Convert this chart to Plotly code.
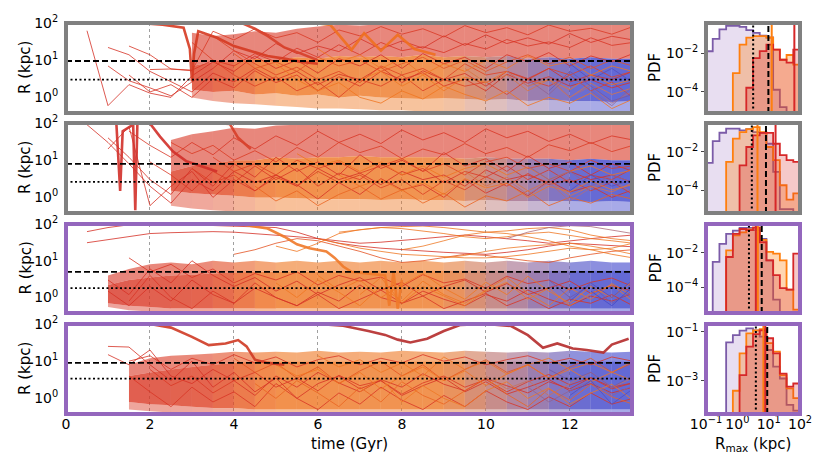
import plotly.graph_objects as go

W, H = 830, 475

# ---------------- data ----------------
T_GRID = [0.0, 0.5, 1.0, 1.5, 2.0, 2.5, 3.0, 3.5, 4.0, 4.5, 5.0, 5.5, 6.0, 6.5,
          7.0, 7.5, 8.0, 8.5, 9.0, 9.5, 10.0, 10.5, 11.0, 11.5, 12.0, 12.5, 13.0, 13.5]
T_MAX = 13.48

R_DASHED = [9.5, 8.0, 5.0, 9.0]
R_DOTTED = [3.0, 2.6, 1.8, 3.4]
HIST_DASHED = [9.8, 8.2, 6.0, 9.0]
HIST_DOTTED = [3.2, 2.9, 2.35, 3.9]
MED_ORANGE = [12.5, 4.4, 4.5, 6.8]
MED_RED = [66.0, 16.6, 3.9, 7.8]

# dense bands (value lists start at index *_BAND_START of T_GRID)
P1_BAND_START = 6
P1_HI = [55, 45, 50, 60, 55, 70, 80, 90, 85, 92, 88, 92, 90, 93, 88, 92, 90, 94, 88, 92, 90, 92]
P1_MID = [7, 9, 9, 11, 10, 12, 11, 13, 12, 13, 12, 14, 12, 13, 12, 13, 11, 12, 11, 12, 11, 11]
P1_CLO = [1.6, 1.4, 1.5, 1.2, 1.3, 1.1, 1.2, 1.0, 1.1, 1.0, 0.95, 0.9, 0.95, 0.9, 0.85, 0.9, 0.8, 0.85, 0.8, 0.8, 0.75, 0.8]
P1_LO = [1.0, 0.8, 0.7, 0.65, 0.6, 0.55, 0.5, 0.5, 0.48, 0.45, 0.45, 0.42, 0.42, 0.42, 0.42, 0.42, 0.42, 0.42, 0.42, 0.42, 0.42, 0.42]

P2_BAND_START = 5
P2_HI = [35, 50, 60, 75, 70, 85, 90, 88, 92, 90, 93, 90, 92, 90, 94, 90, 92, 90, 93, 90, 92, 90, 92]
P2_MID = [5, 7, 8, 10, 10, 12, 11, 12, 12, 13, 12, 12, 12, 12, 11, 12, 11, 11, 11, 10, 11, 10, 10]
P2_CLO = [1.5, 1.3, 1.2, 1.1, 1.0, 1.0, 0.95, 0.9, 0.9, 0.9, 0.85, 0.9, 0.85, 0.85, 0.8, 0.85, 0.8, 0.8, 0.8, 0.8, 0.75, 0.8, 0.75]
P2_LO = [0.6, 0.5, 0.45, 0.42, 0.42, 0.42, 0.42, 0.42, 0.42, 0.42, 0.42, 0.42, 0.42, 0.42, 0.42, 0.42, 0.42, 0.42, 0.42, 0.42, 0.42, 0.42, 0.42]

P3_BAND_START = 2
P3_HI = [4, 6, 8, 9, 8, 10, 9, 10, 9, 10, 9, 10, 9, 10, 9, 10, 9, 10, 9, 10, 9, 10, 9, 10, 9, 9]
P3_MID = [2.2, 3, 3.5, 4, 4.2, 4.5, 4.8, 5, 5, 5.2, 5, 5.2, 5.5, 5.5, 5.5, 5.5, 5.5, 5.5, 5.5, 5.5, 5.5, 5.5, 5.5, 5.5, 5.5, 5.5]
P3_CLO = [0.7, 0.6, 0.55, 0.5, 0.5, 0.5, 0.5, 0.5, 0.5, 0.5, 0.5, 0.5, 0.5, 0.5, 0.5, 0.5, 0.5, 0.5, 0.5, 0.5, 0.5, 0.5, 0.5, 0.5, 0.5, 0.5]
P3_LO = [0.55, 0.45, 0.42, 0.42, 0.42, 0.42, 0.42, 0.42, 0.42, 0.42, 0.42, 0.42, 0.42, 0.42, 0.42, 0.42, 0.42, 0.42, 0.42, 0.42, 0.42, 0.42, 0.42, 0.42, 0.42, 0.42]

P4_BAND_START = 3
P4_HI = [8, 12, 14, 15, 16, 18, 17, 18, 17, 19, 17, 18, 17, 19, 18, 17, 19, 18, 17, 18, 17, 19, 18, 17, 18]
P4_MID = [4, 5, 6, 7, 8, 9, 10, 10, 10, 10, 10, 10, 10, 10, 10, 10, 10, 10, 10, 10, 10, 10, 10, 10, 10]
P4_CLO = [0.8, 0.7, 0.65, 0.6, 0.55, 0.55, 0.5, 0.5, 0.5, 0.5, 0.5, 0.5, 0.5, 0.5, 0.5, 0.5, 0.5, 0.5, 0.5, 0.5, 0.5, 0.5, 0.5, 0.5, 0.5]
P4_LO = [0.5, 0.45, 0.42, 0.42, 0.42, 0.42, 0.42, 0.42, 0.42, 0.42, 0.42, 0.42, 0.42, 0.42, 0.42, 0.42, 0.42, 0.42, 0.42, 0.42, 0.42, 0.42, 0.42, 0.42, 0.42]

# individual trajectories: start index in T_GRID and R values (kpc)
P1_LINE_START = [1, 2, 2, 3, 3, 4, 6, 7, 8, 10, 12, 14, 19, 21, 22, 23, 24]
P1_LINES = [
    [62, 0.6, 2.2, 1.3, 1.0, 3.8, 9, 5, 13, 6, 10, 4.5, 11, 7, 14, 6, 15, 8, 12, 6, 14, 9, 16, 7, 13, 9, 15],
    [22, 14, 5, 2.6, 1.4, 4.5, 2.6, 6, 3, 5, 2.2, 4.2, 3, 6.5, 2.5, 5.2, 3, 4.4, 2, 5, 3.2, 6, 2.6, 4, 3, 5],
    [7, 2.8, 1.8, 1.1, 2.6, 6, 18, 11, 28, 15, 24, 17, 38, 20, 33, 21, 45, 25, 48, 28, 40, 27, 52, 30, 44, 35],
    [24, 14, 5.8, 5.4, 10, 7, 15, 9, 21, 12, 26, 14, 30, 18, 23, 16, 28, 20, 36, 24, 31, 22, 40, 25, 30],
    [4, 1.4, 2.2, 1.0, 3.2, 1.8, 5.2, 2.5, 4, 1.5, 3.6, 2, 5, 3, 4.6, 2, 3.1, 1.5, 4.2, 2.4, 3.6, 2, 3, 1.8, 2.6],
    [5.6, 5.8, 5.2, 60, 35, 70, 40, 55, 30, 65, 45, 80, 50, 70, 42, 85, 55, 75, 48, 88, 60, 72, 50, 80],
    [30, 10, 4, 2, 3.6, 1.5, 2.6, 1.0, 3, 2, 4, 1.5, 3, 2, 2.6, 1.2, 3, 2, 4, 1.5, 2.6, 1.0],
    [45, 18, 8, 4, 6.5, 3, 5, 2.5, 7, 4, 6, 3, 8, 4, 5, 3, 6, 4, 7, 3.5, 5],
    [15, 6, 9, 5, 12, 7, 10, 5, 8, 12, 6, 10, 5, 9, 14, 8, 12, 6, 10, 7],
    [8, 3, 1.5, 2.5, 1, 0.7, 1.5, 0.9, 2, 1.2, 0.8, 1.5, 0.6, 1, 0.7, 1.3, 0.5, 0.9],
    [20, 9, 14, 6, 11, 4, 8, 5, 10, 6, 13, 7, 9, 4, 7, 5],
    [3, 5, 2, 4, 1.5, 3.5, 2.5, 5, 2, 3, 1.6, 4, 2.2, 3],
    [6, 2.5, 4, 1.5, 3, 1, 2.4, 1.2, 1.8],
    [5, 2, 3.5, 1, 2, 0.7, 1.5],
    [3, 1.2, 4, 1.5, 0.6, 2],
    [1.5, 5, 2, 0.8, 1.2],
    [8, 3, 6, 2.5],
]
P2_LINE_START = [1, 2, 2, 3, 4, 5, 6, 7, 9, 11, 13, 19, 21, 22, 24]
P2_LINES = [
    [90, 30, 8, 2, 0.7, 3, 1.5, 5, 2.5, 4, 2, 6, 3, 4.5, 2.2, 5, 3, 4, 2, 5.5, 3, 4, 2.5, 5, 3, 4, 2.5],
    [40, 12, 3, 1.2, 6, 2, 8, 3.5, 12, 5, 9, 4, 14, 6, 10, 5, 16, 7, 11, 5, 13, 6, 9, 4, 8, 5],
    [20, 80, 0.6, 2, 5, 1, 3, 1.5, 4, 2.2, 0.9, 2.5, 1.2, 3.2, 1.6, 2.2, 1, 3, 1.3, 2.4, 1.1, 2.8, 1.4, 2, 1, 1.6],
    [60, 25, 12, 30, 14, 40, 20, 45, 25, 60, 30, 50, 28, 65, 35, 55, 30, 70, 40, 60, 32, 50, 28, 45, 35],
    [9, 4, 1.5, 5, 2.5, 7, 3, 6, 2, 4.5, 3, 8, 4, 6, 2.5, 5, 3.5, 7, 3, 5.5, 2.5, 4, 3, 6],
    [30, 15, 25, 10, 18, 9, 22, 12, 30, 16, 24, 11, 20, 14, 28, 15, 22, 12, 26, 18, 30, 17, 25],
    [6, 2.5, 4, 1.5, 3.5, 2, 5, 2.5, 4, 1.8, 3, 1.2, 2.8, 1.6, 3.6, 2, 4.4, 2.2, 3, 1.5, 2.6, 1.2],
    [12, 5, 8, 4, 10, 6, 9, 4.5, 7, 11, 5, 8, 4, 9, 12, 6, 8, 5, 10, 6, 7],
    [2, 0.8, 1.5, 0.6, 1.2, 2, 0.9, 1.6, 0.7, 1.3, 0.55, 1.1, 0.8, 1.5, 0.6, 1, 0.7, 1.2, 0.9],
    [15, 7, 10, 5, 9, 4, 7, 3.5, 6, 8, 4, 6.5, 3, 5, 7, 4, 5.5],
    [4, 2, 3, 1.5, 2.5, 1.2, 3.2, 1.8, 2.4, 1, 2, 1.4, 2.8, 1.6, 2.2],
    [5, 2, 3.5, 1.5, 2.8, 1.1, 2, 1.4, 2.5],
    [3, 1.2, 2.5, 0.8, 1.8, 3, 1.3],
    [7, 3, 5, 2, 4, 2.5],
    [1.5, 4, 2, 3],
]
P3_LINE_START = [2, 2, 3, 3, 1, 1, 8, 10, 12, 13, 16, 18, 21, 10, 12, 14, 23, 24, 25]
P3_LINES = [
    [1.5, 0.6, 2, 0.8, 3, 1.2, 0.7, 1.8, 1, 0.6, 1.4, 0.8, 2.2, 1, 0.7, 1.5, 0.9, 0.6, 1.2, 0.8, 1.6, 0.9, 0.6, 1.1, 0.8, 1.3],
    [3, 1.2, 6, 2.5, 10, 4, 2, 3.5, 1.5, 2.8, 1.2, 2.2, 3.5, 1.6, 2.6, 1.1, 2, 3, 1.4, 2.4, 1.2, 1.8, 2.8, 1.3, 2.1, 1.5],
    [0.8, 4, 1, 0.5, 1.5, 0.7, 2.5, 1, 0.6, 1.2, 0.5, 0.9, 1.6, 0.7, 1.1, 0.5, 0.8, 1.3, 0.6, 1, 0.5, 0.9, 0.7, 1.2, 0.6],
    [12, 5, 8, 3.5, 6, 2.5, 4.5, 3, 5, 2.2, 4, 2.8, 3.6, 2, 4.2, 2.5, 3.2, 1.8, 3.8, 2.4, 3, 1.6, 2.6, 3.4, 2],
    [62, 80, 95, 98, 97, 95, 92, 88, 85, 80, 60, 40, 30, 25, 22, 20, 18, 17, 16, 15, 17, 20, 25, 30, 28, 26, 24],
    [31, 38, 45, 55, 58, 60, 62, 60, 55, 50, 45, 40, 35, 30, 32, 35, 40, 45, 50, 45, 40, 35, 30, 35, 40, 45, 50],
    [15, 20, 30, 40, 35, 25, 18, 12, 9, 10, 12, 15, 14, 12, 10, 9, 12, 15, 18, 20],
    [25, 18, 30, 55, 70, 80, 85, 88, 80, 70, 60, 65, 75, 80, 70, 50, 40, 35],
    [40, 30, 22, 18, 15, 14, 13, 12, 12, 13, 15, 18, 22, 20, 15, 12],
    [60, 70, 80, 75, 65, 55, 45, 40, 45, 55, 60, 50, 40, 35, 30],
    [20, 25, 35, 50, 60, 55, 45, 35, 25, 20, 22, 30],
    [12, 14, 18, 22, 25, 28, 30, 25, 20, 15],
    [40, 60, 80, 90, 85, 70, 55],
    [2.5, 1, 3, 1.4, 0.6, 2, 0.8, 2.8, 1.2, 0.7, 1.6, 3.5, 1.3, 0.6, 1.8, 0.9, 2.4, 1.1],
    [4, 1.6, 3, 1, 2.2, 4.5, 1.8, 0.9, 2.6, 1.2, 3.8, 1.5, 0.7, 2, 1, 2.8],
    [1.2, 3.5, 0.7, 2, 1.1, 0.6, 1.5, 2.6, 0.9, 1.8, 0.6, 1.3, 2.2, 0.8],
    [3, 1, 2.2, 0.7, 1.5],
    [0.8, 2.5, 1, 3],
    [1.5, 0.6, 2],
]
P4_LINE_START = [2, 2, 3, 3, 4, 8, 9, 10, 12, 14, 20, 22, 23, 24]
P4_LINES = [
    [25, 24, 8, 3, 10, 2, 5, 1.5, 3.5, 1, 2.5, 4, 1.8, 3, 1.2, 2.2, 3.6, 1.5, 2.8, 1.3, 2, 3.2, 1.6, 2.5, 1.4, 2],
    [15, 8, 20, 4, 2.5, 6, 3, 1.2, 4, 2, 5, 2.6, 1.5, 3.2, 2, 4.6, 2.4, 1.6, 3.4, 2.2, 1.4, 2.8, 1.8, 3.6, 2, 2.6],
    [4, 1.5, 0.6, 2, 0.8, 1.5, 0.6, 2.5, 1, 0.5, 1.4, 0.7, 2, 0.9, 0.5, 1.2, 0.6, 1.6, 0.8, 0.5, 1.1, 0.6, 1.4, 0.7, 1],
    [10, 14, 6, 12, 8, 15, 9, 13, 7, 11, 14, 8, 12, 9, 15, 10, 13, 8, 11, 14, 9, 12, 8, 13, 10],
    [6, 2.2, 4, 1.4, 3, 5, 2, 3.5, 1.6, 4.2, 2.2, 3, 1.3, 2.6, 4, 2, 3.2, 1.5, 2.8, 4.4, 2.3, 3.6, 1.8, 2.6],
    [12, 5, 9, 3.5, 7, 2.5, 5.5, 10, 4, 8, 3, 6, 11, 5, 8, 3.5, 7, 12, 5, 9],
    [2.5, 1, 3, 1.4, 0.6, 2, 0.8, 2.8, 1.2, 0.7, 1.6, 3.5, 1.3, 0.6, 1.8, 0.9, 2.4, 1.1, 0.7],
    [8, 4, 6, 2.5, 5, 1.8, 4, 7, 3, 5.5, 2.2, 4.5, 8, 3.5, 6, 2.8, 5, 3],
    [14, 7, 11, 5, 9, 4, 13, 6, 10, 4.5, 8, 12, 6, 9, 5, 10],
    [1.5, 3.5, 0.8, 2.2, 1, 0.6, 1.6, 2.8, 1, 1.9, 0.7, 1.4, 2.4, 0.9],
    [4, 1.8, 3, 1.2, 2.5, 5, 2, 3.5],
    [2, 0.8, 1.6, 3, 1.2, 2.2],
    [6, 3, 5, 2, 4],
    [1.2, 3, 0.7, 1.8],
]

# prominent (thick) trajectories: times (Gyr) and radii (kpc)
P1_THICK_T = [[1.9, 2.3, 2.8, 2.95, 3.0, 3.05, 3.15, 3.6, 4.0, 4.4, 4.8, 5.2, 5.6, 6.0],
              [4.2, 4.5, 4.8, 5.2, 5.6, 6.0],
              [5.9, 6.3, 6.8, 7.1, 7.5, 7.9, 8.3, 8.8]]
P1_THICK_R = [[97, 90, 75, 20, 2.7, 15, 60, 40, 24, 18, 13, 11, 9, 8],
              [98, 70, 45, 22, 15, 10],
              [100, 88, 19, 53, 18, 48, 20, 14]]
P2_THICK_T = [[1.2, 1.29, 1.35, 1.6, 1.65, 1.7, 1.8, 2.0, 2.24, 2.55, 2.87, 3.2, 3.6],
              [3.7, 3.9, 4.1, 4.4]]
P2_THICK_R = [[95, 1.5, 60, 90, 0.45, 95, 98, 97, 43, 17, 9.3, 7, 5],
              [98, 95, 40, 20]]
P3_THICK_T = [[4.3, 4.8, 5.2, 5.5, 5.8, 6.0, 6.2, 6.4, 6.6, 6.8, 7.2, 7.6, 7.7, 7.8, 7.9, 8.0]]
P3_THICK_R = [[92, 75, 45, 28, 22, 20, 18, 12, 7, 5, 4.5, 4, 0.6, 5, 0.5, 3]]
P4_THICK_T = [[2.0, 2.5, 3.0, 3.4, 3.8, 4.1, 4.3, 4.5, 4.8, 5.2],
              [6.0, 6.6, 7.2, 7.6, 7.9, 8.2, 8.6, 9.0, 9.4, 10.0, 10.6, 11.0, 11.36, 11.7, 12.07, 12.4, 12.8, 13.0, 13.4]]
P4_THICK_R = [[100, 80, 45, 27, 30, 37, 25, 11, 9, 8],
              [100, 90, 65, 51, 38, 32, 40, 65, 95, 100, 88, 50, 23, 30, 22, 20, 17, 28, 40]]

# histograms of R_max: 14 log bins from 0.1 to 100 kpc, PDF values
HIST_EDGES = [0.1, 0.1638, 0.2683, 0.4394, 0.7197, 1.179, 1.931, 3.162, 5.179, 8.483,
              13.89, 22.76, 37.28, 61.05, 100.0]
P1_PURPLE = [0.0123, 0.0537, 0.166, 0.251, 0.251, 0.224, 0.151, 0.110, 0.0794, 0.0631, 1.26e-4, 1.6e-5, 0, 0]
P1_ORANGE = [0, 0, 0, 0, 9.1e-4, 0.0269, 0.063, 0.074, 0.074, 0.063, 0.0148, 0.00447, 0.0079, 0.0025]
P1_RED = [0, 0, 0, 0, 0, 0, 1.6e-4, 0.0055, 0.0126, 0.0269, 0.0148, 0.00447, 0.00316, 0.0148]
P2_PURPLE = [2.7e-3, 0.037, 0.102, 0.166, 0.166, 0.135, 0.158, 0.11, 0.1, 0.027, 9.1e-4, 1e-5, 1e-5, 0]
P2_ORANGE = [0, 0, 0, 3.0e-3, 0.05, 0.11, 0.158, 0.2, 0.11, 0.0182, 3.7e-3, 1.8e-4, 3.2e-5, 6.8e-5]
P2_RED = [0, 0, 0, 0, 0, 2.0e-3, 0.0182, 0.074, 0.1, 0.1, 0.027, 6.8e-3, 3.7e-3, 3.0e-3]
P3_PURPLE = [0, 2.95e-3, 0.0324, 0.123, 0.19, 0.27, 0.27, 0.2, 0.063, 3.6e-3, 1.9e-5, 0, 0, 0]
P3_ORANGE = [0, 0, 0, 0.0135, 0.1, 0.151, 0.224, 0.28, 0.055, 0.011, 8.7e-3, 3.6e-3, 7.1e-5, 5e-6]
P3_RED = [0, 0, 0, 5.6e-3, 0.123, 0.234, 0.2, 0.28, 0.04, 3.6e-3, 5e-4, 8.7e-5, 7.1e-5, 8.7e-3]
P4_PURPLE = [0, 0, 0, 0.037, 0.072, 0.11, 0.135, 0.112, 0.063, 0.018, 3.8e-3, 1.26e-3, 1.07e-4, 6.3e-5]
P4_ORANGE = [0, 0, 0, 0, 4e-4, 0.0132, 0.085, 0.112, 0.126, 0.034, 0.0155, 1.74e-3, 5e-4, 2e-4]
P4_RED = [0, 0, 0, 0, 0, 1.74e-3, 0.0245, 0.079, 0.112, 0.054, 0.0132, 2.0e-3, 5.9e-4, 7.9e-4]

HIST_YRANGE = [[-5.1, -0.45], [-5.2, -0.48], [-5.5, -0.34], [-4.34, -0.69]]
HIST_YTICKS = [[1e-4, 1e-2], [1e-4, 1e-2], [1e-4, 1e-2], [1e-3, 1e-1]]
HIST_YTEXT = [["10<sup>−4</sup>", "10<sup>−2</sup>"], ["10<sup>−4</sup>", "10<sup>−2</sup>"],
              ["10<sup>−4</sup>", "10<sup>−2</sup>"], ["10<sup>−3</sup>", "10<sup>−1</sup>"]]

PANELS = [
    dict(bs=P1_BAND_START, hi=P1_HI, mid=P1_MID, clo=P1_CLO, lo=P1_LO, ls=P1_LINE_START, lines=P1_LINES,
         tt=P1_THICK_T, tr=P1_THICK_R, hp=P1_PURPLE, ho=P1_ORANGE, hr=P1_RED),
    dict(bs=P2_BAND_START, hi=P2_HI, mid=P2_MID, clo=P2_CLO, lo=P2_LO, ls=P2_LINE_START, lines=P2_LINES,
         tt=P2_THICK_T, tr=P2_THICK_R, hp=P2_PURPLE, ho=P2_ORANGE, hr=P2_RED),
    dict(bs=P3_BAND_START, hi=P3_HI, mid=P3_MID, clo=P3_CLO, lo=P3_LO, ls=P3_LINE_START, lines=P3_LINES,
         tt=P3_THICK_T, tr=P3_THICK_R, hp=P3_PURPLE, ho=P3_ORANGE, hr=P3_RED),
    dict(bs=P4_BAND_START, hi=P4_HI, mid=P4_MID, clo=P4_CLO, lo=P4_LO, ls=P4_LINE_START, lines=P4_LINES,
         tt=P4_THICK_T, tr=P4_THICK_R, hp=P4_PURPLE, ho=P4_ORANGE, hr=P4_RED),
]

# ---------------- style ----------------
FONT = "DejaVu Sans"
TICK_SIZE = 14
LABEL_SIZE = 15
FRAME = ["#808080", "#808080", "#9467bd", "#9467bd"]
LEFT_X = (66, 632)
RIGHT_X = (706, 800)
ROWS = [(23, 113), (123, 213), (224, 313), (324, 414)]
STOP_T = [0.0, 3.5, 5.0, 9.0, 10.5, 12.3, 13.5]
STOP_RGB = [(212, 45, 38), (222, 65, 35), (240, 118, 32), (238, 122, 40), (175, 110, 125), (68, 72, 200), (58, 66, 205)]
UPPER_RED = (216, 55, 36)
UPPER_BY_TIME = [False, False, True, True]
THICK_COLORS = [["#d63a22", "#d8402a", "#f07020"], ["#d2302a", "#d8402a"], ["#f07a2a"], ["#d03a24", "#b52c2c"]]


def time_rgb(t):
    for k in range(len(STOP_T) - 1):
        if t <= STOP_T[k + 1]:
            f = (t - STOP_T[k]) / (STOP_T[k + 1] - STOP_T[k])
            return tuple(STOP_RGB[k][j] + f * (STOP_RGB[k + 1][j] - STOP_RGB[k][j]) for j in range(3))
    return STOP_RGB[-1]


def rgba(c, a):
    return "rgba(%d,%d,%d,%.3f)" % (int(c[0]), int(c[1]), int(c[2]), a)


def ax_name(prefix, n):
    return prefix if n == 1 else "%s%d" % (prefix, n)


fig = go.Figure()


def add_band(xa, ya, start, lo, hi, colorfn, alpha):
    ts = T_GRID[start:start + len(lo)]
    for k in range(len(ts) - 1):
        xs = [ts[k], ts[k + 1], ts[k + 1], ts[k], ts[k]]
        ys = [lo[k], lo[k + 1], hi[k + 1], hi[k], lo[k]]
        c = colorfn(0.5 * (ts[k] + ts[k + 1]))
        fig.add_trace(go.Scatter(x=xs, y=ys, mode="lines", fill="toself", fillcolor=rgba(c, alpha),
                                 line=dict(width=0), hoverinfo="skip", showlegend=False,
                                 xaxis=xa, yaxis=ya))


def step_poly(edges, vals, floor=1e-9):
    xs, ys = [edges[0]], [floor]
    for k, v in enumerate(vals):
        y = v if v > 0 else floor
        xs += [edges[k], edges[k + 1]]
        ys += [y, y]
    xs.append(edges[-1])
    ys.append(floor)
    return xs, ys


def label(text, xpx, ypx, angle=0):
    return dict(text=text, x=xpx / W, y=1 - ypx / H, xref="paper", yref="paper", showarrow=False,
                xanchor="center", yanchor="middle", textangle=angle,
                font=dict(family=FONT, size=LABEL_SIZE, color="black"))


shapes = []
annotations = []
tickfont = dict(family=FONT, size=TICK_SIZE, color="black")
layout = dict(width=W, height=H, margin=dict(l=0, r=0, t=0, b=0), paper_bgcolor="white",
              plot_bgcolor="white", showlegend=False, font=dict(family=FONT, size=TICK_SIZE, color="black"))

for r, P in enumerate(PANELS):
    nL, nR = 2 * r + 1, 2 * r + 2
    xL, yL = ax_name("x", nL), ax_name("y", nL)
    xR, yR = ax_name("x", nR), ax_name("y", nR)
    y0, y1 = ROWS[r]
    dom_y = [1 - y1 / H, 1 - y0 / H]

    # ----- left: trajectories -----
    s = P["bs"]
    upper_fn = time_rgb if UPPER_BY_TIME[r] else (lambda t: UPPER_RED)
    add_band(xL, yL, s, P["mid"], P["hi"], upper_fn, 0.6)
    add_band(xL, yL, s, P["lo"], P["clo"], time_rgb, 0.45)
    add_band(xL, yL, s, P["clo"], P["mid"], time_rgb, 0.8)

    for st, vals in zip(P["ls"], P["lines"]):
        ts = T_GRID[st:st + len(vals)]
        c = time_rgb(T_GRID[st])
        fig.add_trace(go.Scatter(x=ts, y=vals[:len(ts)], mode="lines", line=dict(color=rgba(c, 0.8), width=1),
                                 hoverinfo="skip", showlegend=False, xaxis=xL, yaxis=yL))
    for k, (ts, vals) in enumerate(zip(P["tt"], P["tr"])):
        fig.add_trace(go.Scatter(x=ts, y=vals, mode="lines", line=dict(color=THICK_COLORS[r][k], width=2.6),
                                 opacity=0.9, hoverinfo="skip", showlegend=False, xaxis=xL, yaxis=yL))

    shapes.append(dict(type="line", xref=xL + " domain", yref=yL, x0=0, x1=1, y0=R_DASHED[r], y1=R_DASHED[r],
                       line=dict(color="black", width=1.8, dash="6px,3px"), layer="above"))
    shapes.append(dict(type="line", xref=xL + " domain", yref=yL, x0=0, x1=1, y0=R_DOTTED[r], y1=R_DOTTED[r],
                       line=dict(color="black", width=1.8, dash="2px,2.5px"), layer="above"))

    layout["xaxis" + ("" if nL == 1 else str(nL))] = dict(
        domain=[LEFT_X[0] / W, LEFT_X[1] / W], anchor=yL, range=[0, T_MAX], tick0=0, dtick=2,
        showgrid=True, griddash="dot", gridcolor="#a0a0a0", gridwidth=1, zeroline=False,
        showticklabels=(r == 3), ticks="", showline=False, automargin=False, tickfont=tickfont)
    layout["yaxis" + ("" if nL == 1 else str(nL))] = dict(
        domain=dom_y, anchor=xL, type="log", range=[-0.42, 2.0], tickvals=[1, 10, 100],
        ticktext=["10<sup>0</sup>", "10<sup>1</sup>", "10<sup>2</sup>"], showgrid=False, zeroline=False,
        ticks="outside", ticklen=4, tickcolor="rgba(0,0,0,0)", automargin=False, tickfont=tickfont)

    # ----- right: histograms -----
    for vals, lc, fc in [(P["hp"], "#7b5ba8", "rgba(148,103,189,0.22)"),
                         (P["ho"], "#ff7f0e", "rgba(255,127,14,0.32)"),
                         (P["hr"], "#d62728", "rgba(214,39,40,0.25)")]:
        xs, ys = step_poly(HIST_EDGES, vals)
        fig.add_trace(go.Scatter(x=xs, y=ys, mode="lines", fill="toself", fillcolor=fc,
                                 line=dict(color=lc, width=1.8), hoverinfo="skip", showlegend=False,
                                 xaxis=xR, yaxis=yR))
    for v, col, dash in [(MED_ORANGE[r], "#ff7f0e", "solid"), (MED_RED[r], "#d62728", "solid"),
                         (HIST_DOTTED[r], "black", "2px,2.5px"), (HIST_DASHED[r], "black", "6px,3px")]:
        shapes.append(dict(type="line", xref=xR, yref=yR + " domain", x0=v, x1=v, y0=0, y1=1,
                           line=dict(color=col, width=2, dash=dash), layer="above"))

    layout["xaxis" + str(nR)] = dict(
        domain=[RIGHT_X[0] / W, RIGHT_X[1] / W], anchor=yR, type="log", range=[-1, 2],
        tickvals=[0.1, 1, 10, 100],
        ticktext=["10<sup>−1</sup>", "10<sup>0</sup>", "10<sup>1</sup>", "10<sup>2</sup>"],
        showticklabels=(r == 3), showgrid=False, zeroline=False, ticks="", automargin=False,
        tickfont=tickfont)
    layout["yaxis" + str(nR)] = dict(
        domain=dom_y, anchor=xR, type="log", range=HIST_YRANGE[r], tickvals=HIST_YTICKS[r],
        ticktext=HIST_YTEXT[r], showgrid=False, zeroline=False, ticks="outside", ticklen=4,
        tickcolor="#444", automargin=False, tickfont=tickfont)

    # frames
    for (xa, xb) in [LEFT_X, RIGHT_X]:
        shapes.append(dict(type="rect", xref="paper", yref="paper", x0=xa / W, x1=xb / W,
                           y0=dom_y[0], y1=dom_y[1], line=dict(color=FRAME[r], width=4), layer="above"))

    yc = 0.5 * (y0 + y1)
    annotations.append(label("R (kpc)", 25, yc, -90))
    annotations.append(label("PDF", 655, yc, -90))

annotations.append(label("time (Gyr)", 349, 444))
annotations.append(label("R<sub>max</sub> (kpc)", 753, 444))

layout["shapes"] = shapes
layout["annotations"] = annotations
fig.update_layout(**layout)
fig.write_html("out.html", config={"displayModeBar": False},
               post_script="document.body.style.margin='0px';")
